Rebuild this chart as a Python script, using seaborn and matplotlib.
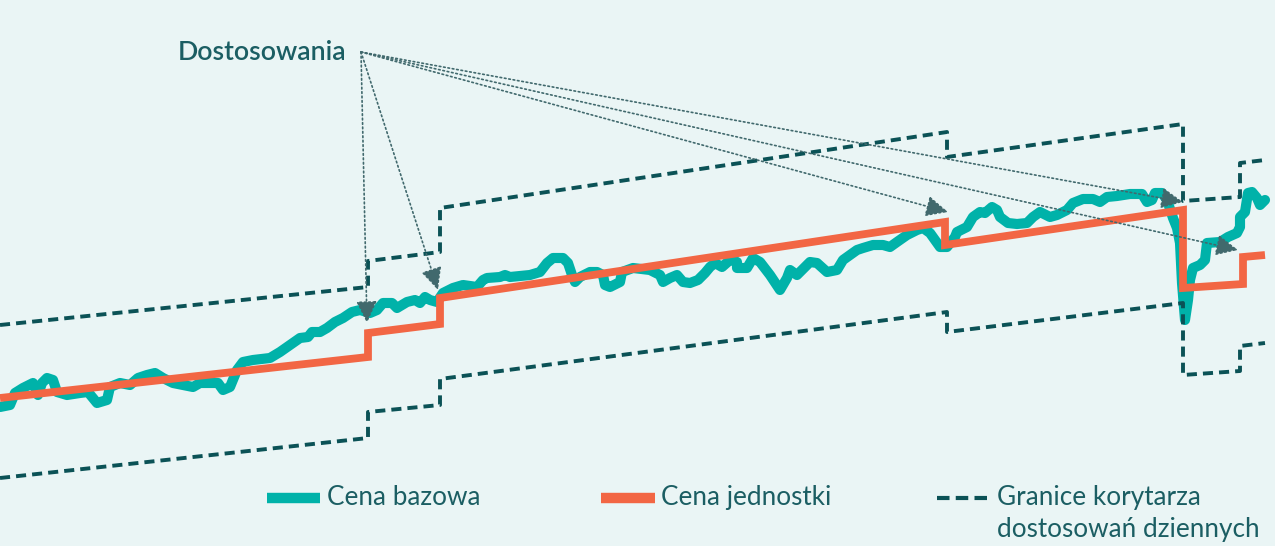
import matplotlib.pyplot as plt
import pandas as pd
import seaborn as sns

# Cena bazowa (teal line), x = day index, y = price level
base_x = [0, 10, 15, 23, 33, 38, 42, 47, 53, 57, 67, 80, 88, 97, 107, 110, 120, 130, 138, 147,
          155, 163, 173, 193, 200, 218, 223, 230, 237, 243, 253, 270, 280, 290, 300, 308, 312, 320,
          327, 335, 343, 352, 360, 370, 377, 383, 392, 397, 407, 415, 420, 425, 430, 437, 443, 453,
          463, 477, 483, 487, 500, 505, 510, 530, 540, 547, 553, 563, 568, 572, 575, 580, 590, 597,
          603, 605, 610, 620, 622, 633, 650, 660, 663, 670, 677, 683, 690, 698, 705, 710, 715, 722,
          730, 737, 737, 747, 753, 760, 770, 780, 787, 790, 797, 810, 817, 827, 837, 843, 857, 863,
          873, 883, 890, 897, 907, 917, 923, 930, 935, 940, 947, 955, 957, 967, 973, 980, 985, 992,
          997, 1000, 1008, 1017, 1027, 1033, 1040, 1050, 1057, 1067, 1073, 1083, 1093, 1100, 1107,
          1117, 1130, 1142, 1147, 1152, 1155, 1162, 1167, 1173, 1177, 1180, 1182, 1185, 1188, 1190,
          1193, 1200, 1205, 1207, 1220, 1228, 1237, 1240, 1240, 1245, 1248, 1252, 1257, 1260, 1265]
base_y = [139, 141, 153, 158, 163, 151, 163, 168, 166, 154, 151, 153, 154, 143, 146, 159, 163, 161,
          168, 171, 173, 168, 163, 159, 163, 163, 156, 159, 176, 184, 186, 188, 194, 201, 208, 209,
          214, 214, 218, 224, 228, 234, 236, 233, 236, 243, 243, 238, 244, 246, 243, 249, 246, 244,
          253, 258, 261, 259, 266, 268, 269, 271, 269, 271, 274, 283, 288, 288, 283, 271, 264, 269,
          274, 274, 271, 261, 259, 264, 274, 278, 276, 271, 264, 268, 271, 264, 263, 266, 273, 279,
          283, 279, 286, 284, 278, 278, 288, 284, 271, 256, 268, 276, 271, 284, 283, 274, 276, 286,
          296, 298, 301, 301, 299, 304, 311, 316, 318, 313, 306, 299, 299, 309, 314, 319, 329, 334,
          333, 339, 336, 329, 323, 322, 323, 329, 334, 329, 331, 336, 343, 347, 347, 344, 349, 350,
          352, 352, 344, 346, 353, 353, 346, 328, 318, 303, 263, 226, 246, 266, 278, 281, 286, 303,
          304, 309, 313, 319, 329, 334, 353, 354, 348, 341, 346]

# Cena jednostki (orange step line)
unit_x = [0, 368, 368, 440, 440, 945, 945, 1183, 1183, 1243, 1243, 1265]
unit_y = [148, 189, 213, 222, 248, 324, 301, 336, 258, 262, 289, 291]

# Granice korytarza dostosowań dziennych (dashed)
upper_x = [0, 368, 368, 440, 440, 947, 947, 1183, 1183, 1240, 1240, 1265]
upper_y = [221, 259, 285, 294, 338, 414, 389, 422, 345, 349, 383, 386]
lower_x = [0, 368, 368, 440, 440, 947, 947, 1183, 1183, 1240, 1240, 1265]
lower_y = [68, 108, 134, 141, 167, 234, 214, 243, 171, 175, 200, 203]

# adjustments pointed by the arrows
adj_x = [367, 438, 948, 1183, 1238]
adj_y = [223, 256, 334, 344, 296]

bg = '#eaf5f5'
teal = '#00b2a9'
orange = '#f26644'
dark = '#0b5256'
txt = '#1b5e63'

sns.set_theme(style='white', rc={'figure.facecolor': bg, 'axes.facecolor': bg})
plt.rcParams['font.family'] = ['Lato', 'DejaVu Sans']

base_df = pd.DataFrame({'x': base_x, 'y': base_y})
unit_df = pd.DataFrame({'x': unit_x, 'y': unit_y})
upper_df = pd.DataFrame({'x': upper_x, 'y': upper_y})
lower_df = pd.DataFrame({'x': lower_x, 'y': lower_y})

fig = plt.figure(figsize=(12.75, 5.46), dpi=100)
ax = fig.add_axes([0, 0, 1, 1])

sns.lineplot(data=base_df, x='x', y='y', ax=ax, sort=False, estimator=None,
             color=teal, linewidth=7.3, solid_joinstyle='round', solid_capstyle='round')
sns.lineplot(data=unit_df, x='x', y='y', ax=ax, sort=False, estimator=None,
             color=orange, linewidth=5.6, solid_joinstyle='miter', solid_capstyle='butt')
for d in [upper_df, lower_df]:
    sns.lineplot(data=d, x='x', y='y', ax=ax, sort=False, estimator=None, color=dark, linewidth=2.8)
    ax.lines[-1].set_dashes((2.6, 1.55))

# arrows
for x, y in zip(adj_x, adj_y):
    ax.annotate('', xy=(x, y), xytext=(361, 494),
                arrowprops=dict(arrowstyle='-|>,head_length=0.8,head_width=0.38', linestyle=':',
                                lw=1.2, color='#41696d', shrinkA=0, shrinkB=0, mutation_scale=17))
ax.text(178, 494, 'Dostosowania', fontsize=19.3, fontweight='semibold', color=txt, va='center')

# legend
tr = ax.transAxes
fs = 18.8
ax.plot([0.2094, 0.251], [0.088, 0.088], transform=tr, color=teal, lw=7.5, solid_capstyle='butt')
ax.text(0.2565, 0.088, 'Cena bazowa', transform=tr, fontsize=fs, color=txt, va='center')
ax.plot([0.4714, 0.5137], [0.088, 0.088], transform=tr, color=orange, lw=7.5, solid_capstyle='butt')
ax.text(0.5184, 0.088, 'Cena jednostki', transform=tr, fontsize=fs, color=txt, va='center')
ax.plot([0.7349, 0.7765], [0.088, 0.088], transform=tr, color=dark, lw=3, dashes=(3.0, 1.5))
ax.text(0.782, 0.088, 'Granice korytarza', transform=tr, fontsize=fs, color=txt, va='center')
ax.text(0.782, 0.031, 'dostosowań dziennych', transform=tr, fontsize=fs, color=txt, va='center')

ax.set_xlim(0, 1275)
ax.set_ylim(0, 546)
ax.axis('off')

fig.savefig('out.png', dpi=100, facecolor=bg)
